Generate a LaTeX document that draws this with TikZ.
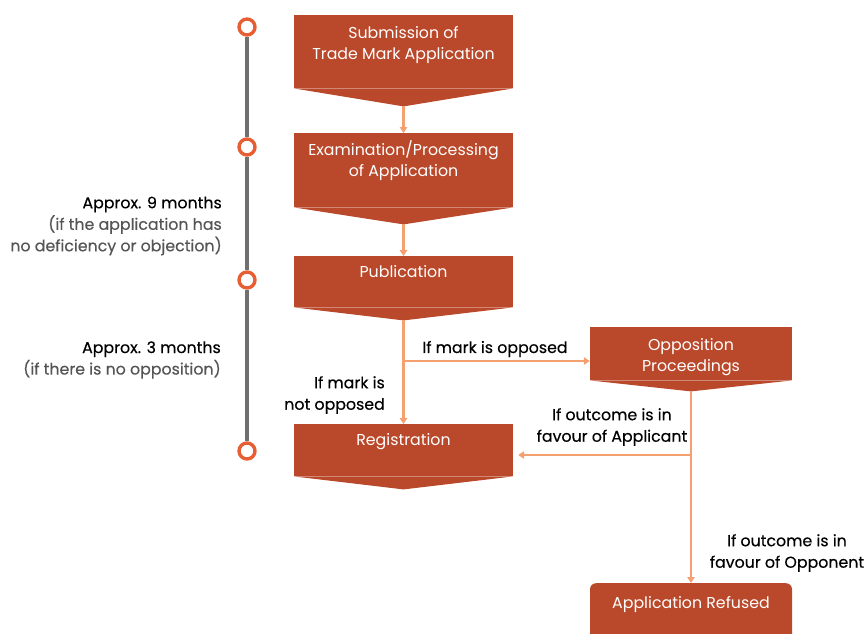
\documentclass[tikz,border=0pt]{standalone}
\usepackage{fontspec}
\setmainfont{Poppins}
\newfontfamily\medfont{Poppins}[FakeBold=0.35]
\usetikzlibrary{arrows.meta,positioning}
\definecolor{rust}{RGB}{186,72,42}
\definecolor{ring}{RGB}{232,94,52}
\definecolor{flowc}{RGB}{245,160,112}
\definecolor{rail}{RGB}{112,112,112}
\definecolor{note}{RGB}{85,85,85}

\begin{document}
\begin{tikzpicture}[x=1pt, y=-1pt,
    stage/.style 2 args={fill=rust, anchor=north, inner sep=0pt,
                minimum width=#1, minimum height=#2},
    stagetext/.style={text=white, font=\fontsize{15.8}{21}\selectfont,
                align=center, inner sep=0pt},
    lbl/.style={font=\medfont\fontsize{15.8}{21.5}\selectfont, inner sep=0pt, align=#1},
    flow/.style={-{Triangle[width=7.5pt,length=6pt]}, line width=2.4pt, flowc},
    dot/.style={circle, draw=ring, line width=3.4pt, fill=white,
                minimum size=16pt, inner sep=0pt},
    railline/.style={rail, line width=3.6pt}]

    \clip (0,0) rectangle (867,633);

    % stage boxes
    \node[stage={219pt}{73pt}] (submit) at (403.5,15)  {};
    \node[stage={219pt}{74pt}] (exam)   at (403.5,133) {};
    \node[stage={219pt}{51pt}] (pub)    at (403.5,256) {};
    \node[stage={219pt}{52pt}] (reg)    at (403.5,424) {};
    \node[stage={202pt}{53pt}] (oppo)   at (691,327)   {};
    \node[stage={202pt}{60pt}, rounded corners=6pt] (refused) at (691,583) {};

    % pointed bottoms
    \foreach \n/\d in {submit/18, exam/17, pub/13, reg/13, oppo/11} {
      \fill[rust] (\n.south west) -- (\n.south east)
        -- ([yshift=-\d pt]\n.south) -- cycle;
      \coordinate (\n-tip) at ([yshift=-\d pt]\n.south);
    }

    % box texts
    \node[stagetext] (submit-t)  at (403.5,45)  {Submission of\\Trade Mark Application};
    \node[stagetext] (exam-t)    at (403.5,161) {Examination/Processing\\of Application};
    \node[stagetext] (pub-t)     at (403.5,272) {Publication};
    \node[stagetext] (reg-t)     at (403.5,442) {Registration};
    \node[stagetext] (oppo-t)    at (691,357)   {Opposition\\Proceedings};
    \node[stagetext] (refused-t) at (691,605)   {Application Refused};

    % flow
    \coordinate (split1) at (403.5,361);
    \coordinate (split2) at (691,455);
    \draw[flow] (submit-tip) -- (exam);
    \draw[flow] (exam-tip) -- (pub);
    \draw[flow] (pub-tip) -- (reg);
    \draw[flow] (split1) -- (split1 -| oppo.west);
    \draw[flow] (oppo-tip) -- (refused);
    \draw[flow, shorten >=5pt] (split2) -- (split2 -| reg.east);

    % branch labels
    \node[lbl=center] (opp-l)  at (495,349) {If mark is opposed};
    \node[lbl=right, anchor=east] (nopp-l) at (385,395) {If mark is\\not opposed};
    \node[lbl=center] (app-l)  at (612,427) {If outcome is in\\favour of Applicant};
    \node[lbl=center] (opn-l)  at (787,553) {If outcome is in\\favour of Opponent};

    % timeline
    \node[dot] (t1) at (247,27)  {};
    \node[dot] (t2) at (247,147) {};
    \node[dot] (t3) at (247,280) {};
    \node[dot] (t4) at (247,451) {};
    \draw[railline] (t1) -- (t2);
    \draw[railline] (t2) -- (t3);
    \draw[railline] (t3) -- (t4);

    % durations
    \node[lbl=right, anchor=east] (dur1) at (222,226)
      {Approx. 9 months\\{\color{note}(if the application has}\\{\color{note}no deficiency or objection)}};
    \node[lbl=right, anchor=east] (dur2) at (221,360)
      {Approx. 3 months\\{\color{note}(if there is no opposition)}};
  \end{tikzpicture}
\end{document}
